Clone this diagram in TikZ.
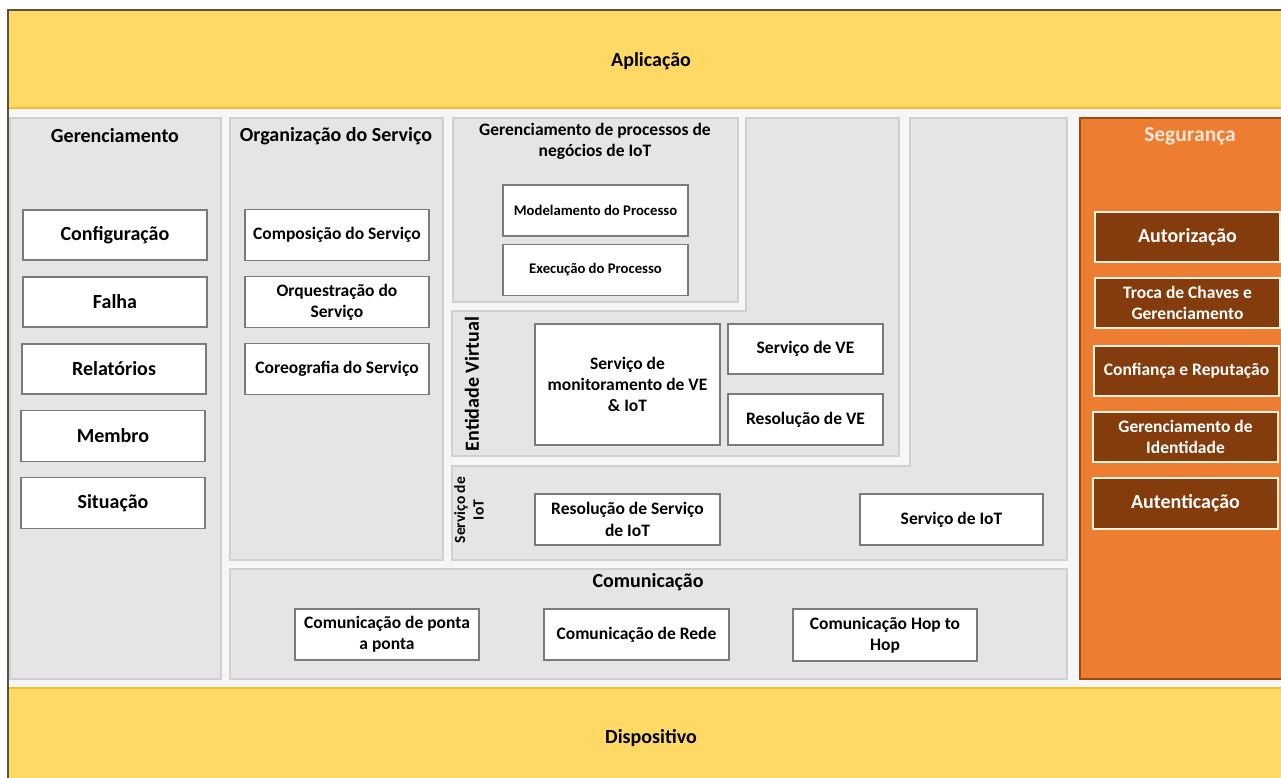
\documentclass[tikz,border=0pt]{standalone}
\usepackage{fontspec}
\setmainfont{Carlito}
\definecolor{bandfill}{HTML}{FED966}
\definecolor{bandline}{HTML}{F2BE2C}
\definecolor{frameline}{HTML}{5A5340}
\definecolor{groundfill}{HTML}{F6F6F6}
\definecolor{panelfill}{HTML}{E5E5E5}
\definecolor{panelline}{HTML}{D0D0D0}
\definecolor{boxline}{HTML}{7A7A7A}
\definecolor{secfill}{HTML}{ED7D31}
\definecolor{secline}{HTML}{9C4A12}
\definecolor{secbox}{HTML}{843C0C}
\definecolor{secboxline}{HTML}{FFF2E0}
\definecolor{sectitle}{HTML}{FCE6D8}
\begin{document}
\begin{tikzpicture}[x=1pt,y=-1pt,
  big/.style={font=\bfseries\fontsize{20}{24}\selectfont},
  mid/.style={font=\bfseries\fontsize{17.5}{21.3}\selectfont},
  small/.style={font=\bfseries\fontsize{14.7}{18}\selectfont},
  panel/.style={fill=panelfill, draw=panelline, line width=1.3pt},
  wbox/.style={draw=boxline, fill=white, line width=1.5pt, inner sep=2pt,
    align=center, text=black},
  sbox/.style={draw=secboxline, fill=secbox, line width=1.5pt, inner sep=2pt,
    align=center, text=white},
  title/.style={inner sep=0pt, align=center, text=black}
]
\useasboundingbox (0,0) rectangle (1281,778);

% ground and frame
\fill[groundfill] (8,10) rectangle (1281,778);

% application and device bands
\fill[bandfill] (8,10) rectangle (1281,108);
\draw[bandline, line width=1.5pt] (8,108) -- (1281,108);
\fill[bandfill] (8,688) rectangle (1281,778);
\draw[bandline, line width=1.5pt] (8,688) -- (1281,688);
\draw[frameline, line width=1.3pt] (8,778) -- (8,10) -- (1281,10);
\node[title, big] (app) at (651,61) {Aplicação};
\node[title, big] (dev) at (651,738) {Dispositivo};

% grey panels
\draw[panel] (10,118) rectangle (221,679);
\draw[panel] (230,118) rectangle (443,560);
\draw[panel] (453,118) rectangle (738,302);
\draw[panel] (746,118) -- (899,118) -- (899,456) -- (452,456) -- (452,311) -- (746,311) -- cycle;
\draw[panel] (910,118) -- (1067,118) -- (1067,560) -- (452,560) -- (452,466) -- (910,466) -- cycle;
\draw[panel] (230,569) rectangle (1067,679);

% security panel
\draw[fill=secfill, draw=secline, line width=1.2pt] (1080,118) rectangle (1290,679);

% panel titles
\node[title, big] (tger) at (115,136) {Gerenciamento};
\node[title, big] (torg) at (336,136) {Organização do Serviço};
\node[title, mid] (tgpn) at (595,141) {Gerenciamento de processos de\\negócios de IoT};
\node[title, big, rotate=90] (tev) at (472,384) {Entidade Virtual};
\node[title, font=\bfseries\fontsize{15.5}{18.5}\selectfont, rotate=90] (tiot) at (469,510) {Serviço de\\IoT};
\node[title, big] (tcom) at (648,582) {Comunicação};
\node[title, font=\bfseries\fontsize{21.5}{25}\selectfont, text=sectitle] (tseg) at (1190,136) {Segurança};

% management column
\node[wbox, big, minimum width=184pt, minimum height=50pt] (conf) at (115,235) {Configuração};
\node[wbox, big, minimum width=184pt, minimum height=50pt] (falha) at (115,302) {Falha};
\node[wbox, big, minimum width=184pt, minimum height=50pt] (rel) at (114,369) {Relatórios};
\node[wbox, big, minimum width=184pt, minimum height=51pt] (memb) at (113,436) {Membro};
\node[wbox, big, minimum width=184pt, minimum height=51pt] (sit) at (113,503) {Situação};

% service organisation column
\node[wbox, mid, minimum width=184pt, minimum height=51pt] (comp) at (337,235) {Composição do Serviço};
\node[wbox, mid, minimum width=184pt, minimum height=51pt] (orq) at (337,302) {Orquestração do\\Serviço};
\node[wbox, mid, minimum width=184pt, minimum height=51pt] (coreo) at (337,369) {Coreografia do Serviço};

% IoT business process management
\node[wbox, small, minimum width=185pt, minimum height=51pt] (model) at (595.5,210.5) {Modelamento do Processo};
\node[wbox, small, minimum width=185pt, minimum height=51pt] (exec) at (595.5,270) {Execução do Processo};

% virtual entity
\node[wbox, mid, minimum width=185pt, minimum height=121pt] (mon) at (627.5,384.5) {Serviço de\\monitoramento de VE\\\& IoT};
\node[wbox, mid, minimum width=155pt, minimum height=50pt] (sve) at (805.5,349) {Serviço de VE};
\node[wbox, mid, minimum width=155pt, minimum height=51pt] (rve) at (805.5,419.5) {Resolução de VE};

% IoT service
\node[wbox, mid, minimum width=185pt, minimum height=51pt] (rsiot) at (627.5,519.5) {Resolução de Serviço\\de IoT};
\node[wbox, mid, minimum width=183pt, minimum height=51pt] (siot) at (951.5,519.5) {Serviço de IoT};

% communication
\node[wbox, mid, minimum width=184pt, minimum height=51pt] (ponta) at (387,634.5) {Comunicação de ponta\\a ponta};
\node[wbox, mid, minimum width=185pt, minimum height=51pt] (rede) at (636.5,634.5) {Comunicação de Rede};
\node[wbox, mid, minimum width=184pt, minimum height=52pt] (hop) at (885,635) {Comunicação Hop to\\Hop};

% security
\node[sbox, big, minimum width=185pt, minimum height=50pt] (autz) at (1187.5,237) {Autorização};
\node[sbox, mid, minimum width=185pt, minimum height=50pt] (troca) at (1187.5,303) {Troca de Chaves e\\Gerenciamento};
\node[sbox, mid, minimum width=185pt, minimum height=50pt] (confi) at (1186.5,371) {Confiança e Reputação};
\node[sbox, mid, minimum width=185pt, minimum height=50pt] (gid) at (1185.5,437) {Gerenciamento de\\Identidade};
\node[sbox, big, minimum width=185pt, minimum height=51pt] (auth) at (1185.5,503.5) {Autenticação};
\end{tikzpicture}
\end{document}
